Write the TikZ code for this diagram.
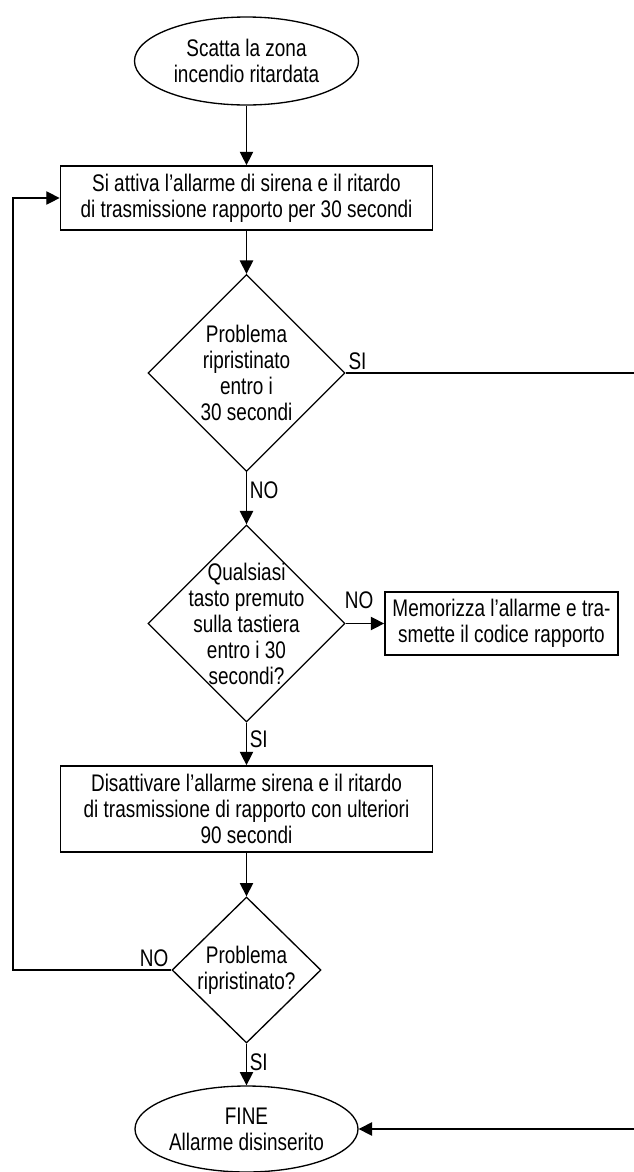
\documentclass[tikz,border=0pt]{standalone}
\usepackage{fontspec}
\setmainfont{Liberation Sans}[FakeStretch=0.79]
\usetikzlibrary{shapes.geometric,arrows.meta,calc}
\begin{document}
\begin{tikzpicture}[x=0.75pt,y=-0.75pt,
  font=\fontsize{18}{19.5}\selectfont,
  term/.style={ellipse, draw, line width=1pt, inner sep=0pt, align=center},
  proc/.style={rectangle, draw, line width=1.3pt, inner sep=0pt, align=center},
  dec/.style={diamond, draw, line width=1pt, inner sep=0pt},
  dectext/.style={align=center, inner sep=0pt},
  flow/.style={line width=1pt, -{Triangle[length=10pt,width=10pt]}},
  lbl/.style={inner sep=2pt}]
\useasboundingbox (0,0) rectangle (633,1172);

\node[term, minimum width=168pt, minimum height=66pt] (start) at (246.5,61)
  {Scatta la zona\\incendio ritardata};
\node[proc, minimum width=279pt, minimum height=48pt] (b1) at (246.5,198)
  {Si attiva l’allarme di sirena e il ritardo\\di trasmissione rapporto per 30 secondi};
\node[dec, minimum width=147.75pt, minimum height=147.75pt,
  label={[dectext]center:Problema\\ripristinato\\entro i\\30 secondi}] (d1) at (246.5,373) {};
\node[dec, minimum width=147.75pt, minimum height=147.75pt,
  label={[dectext]center:Qualsiasi\\tasto premuto\\sulla tastiera\\entro i 30\\secondi?}] (d2) at (246.5,623.5) {};
\node[proc, minimum width=174.75pt, minimum height=47.25pt] (bm) at (501.5,623.5)
  {Memorizza l’allarme e tra-\\smette il codice rapporto};
\node[proc, minimum width=279pt, minimum height=64.5pt] (b3) at (246.5,809)
  {Disattivare l’allarme sirena e il ritardo\\di trasmissione di rapporto con ulteriori\\90 secondi};
\node[dec, minimum width=111.75pt, minimum height=109.5pt,
  label={[dectext]center:Problema\\ripristinato?}] (d3) at (246.5,970) {};
\node[term, minimum width=167.25pt, minimum height=64.5pt] (fine) at (246.5,1129)
  {FINE\\Allarme disinserito};

\coordinate (rr) at (660,0);
\coordinate (ll) at (13,0);

\draw[flow] (start) -- (b1);
\draw[flow] (b1) -- (d1);
\draw[flow] (d1) -- node[pos=0.35, right, lbl] {NO} (d2);
\draw[flow] (d2) -- node[pos=0.4, right, lbl] {SI} (b3);
\draw[flow] (b3) -- (d3);
\draw[flow] (d3) -- node[pos=0.45, right, lbl] {SI} (fine);
\draw[flow] (d2.east) -- node[pos=0.35, above=7pt] {NO} (bm.west);
\draw[flow] (d1.east) -- (d1.east -| rr) |- (fine.east);
\node[anchor=south west, lbl] (lsi) at (d1.east) {SI};
\draw[flow] (d3.west) -- (d3.west -| ll) |- (b1.west);
\node[anchor=south east, lbl] (lno) at (d3.west) {NO};
\end{tikzpicture}
\end{document}
